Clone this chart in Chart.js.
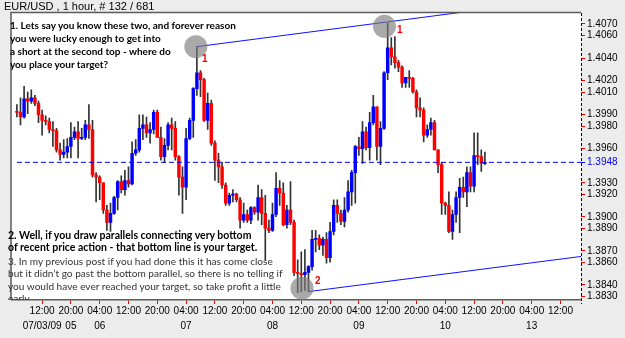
<!DOCTYPE html>
<html>
<head>
<meta charset="utf-8">
<script src="https://cdn.jsdelivr.net/npm/chart.js@4.4.0/dist/chart.umd.min.js"></script>
<style>
  html, body { margin: 0; padding: 0; background: #ececec; }
  #wrap { position: relative; width: 625px; height: 338px; overflow: hidden; }
  #notes { position: absolute; left: 0; top: 0; width: 625px; height: 300px; overflow: hidden; pointer-events: none; }
  .note { position: absolute; font-family: Lato, "Open Sans", sans-serif; font-size: 10.5px; color: #000; white-space: nowrap; }
  .bold { font-weight: bold; }
  .plain { color: #333; }
  .mark { position: absolute; font-family: "Liberation Sans", Arial, sans-serif; font-weight: bold; font-size: 10px; line-height: 13px; color: #ff0000; }
</style>
</head>
<body>
<div id="wrap">
  <canvas id="chart" width="625" height="338"></canvas>
  <div id="notes">
    <div class="note bold" style="left:10px; top:19px; line-height:12.9px; font-size:10px">1. Lets say you know these two, and forever reason<br>you were lucky enough to get into<br>a short at the second top - where do<br>you place your target?</div>
    <div class="note bold" style="left:8px; top:228.5px; line-height:12px">2. Well, if you draw parallels connecting very bottom<br>of recent price action - that bottom line is your target.</div>
    <div class="note plain" style="left:8px; top:254.5px; line-height:12.5px; font-size:10.1px">3. In my previous post if you had done this it has come close<br>but it didn’t go past the bottom parallel, so there is no telling if<br>you would have ever reached your target, so take profit a little<br>early.</div>
    <div class="mark" style="left:202px; top:51.5px">1</div>
    <div class="mark" style="left:397px; top:22.5px">1</div>
    <div class="mark" style="left:315px; top:273.5px">2</div>
  </div>
</div>
<script>
// hourly bars, EUR/USD
const opens = [
  1.3993, 1.3992, 1.3988, 1.4004, 1.4002, 1.4005, 1.4000, 1.3990, 1.3985, 1.3984,
  1.3977, 1.3976, 1.3959, 1.3955, 1.3957, 1.3962, 1.3970, 1.3975, 1.3969, 1.3970,
  1.3981, 1.3977, 1.3937, 1.3935, 1.3930, 1.3906, 1.3895, 1.3903, 1.3917, 1.3931,
  1.3924, 1.3932, 1.3929, 1.3956, 1.3959, 1.3978, 1.3981, 1.3974, 1.3977, 1.3992,
  1.3970, 1.3953, 1.3963, 1.3981, 1.3978, 1.3953, 1.3935, 1.3926, 1.3969, 1.3985,
  1.4013, 1.4027, 1.4021, 1.3985, 1.4000, 1.3965, 1.3950, 1.3944, 1.3928, 1.3912,
  1.3919, 1.3920, 1.3915, 1.3897, 1.3902, 1.3897, 1.3908, 1.3904, 1.3917, 1.3903,
  1.3890, 1.3888, 1.3902, 1.3925, 1.3921, 1.3893, 1.3906, 1.3895, 1.3851, 1.3850,
  1.3849, 1.3851, 1.3856, 1.3880, 1.3881, 1.3875, 1.3880, 1.3864, 1.3887, 1.3910,
  1.3903, 1.3896, 1.3906, 1.3922, 1.3939, 1.3962, 1.3960, 1.3975, 1.3961, 1.3983,
  1.3997, 1.3962, 1.3978, 1.4027, 1.4049, 1.4041, 1.4036, 1.4032, 1.4018, 1.4023,
  1.4022, 1.4010, 1.3996, 1.3994, 1.3972, 1.3977, 1.3983, 1.3959, 1.3946, 1.3912,
  1.3910, 1.3887, 1.3902, 1.3917, 1.3926, 1.3922, 1.3939, 1.3927, 1.3954, 1.3953,
  1.3947
];
const highs = [
  1.3999, 1.4005, 1.4015, 1.4010, 1.4012, 1.4007, 1.4002, 1.3994, 1.3989, 1.3987,
  1.3984, 1.3978, 1.3965, 1.3968, 1.3969, 1.3983, 1.3979, 1.3984, 1.3978, 1.3985,
  1.3999, 1.3985, 1.3939, 1.3936, 1.3930, 1.3910, 1.3912, 1.3918, 1.3932, 1.3936,
  1.3941, 1.3944, 1.3966, 1.3968, 1.3990, 1.3990, 1.3988, 1.3983, 1.3994, 1.3994,
  1.3979, 1.3969, 1.3983, 1.3987, 1.3984, 1.3954, 1.3944, 1.3978, 1.3987, 1.4014,
  1.4050, 1.4029, 1.4022, 1.4009, 1.4003, 1.3967, 1.3956, 1.3948, 1.3930, 1.3921,
  1.3924, 1.3921, 1.3917, 1.3912, 1.3906, 1.3909, 1.3909, 1.3928, 1.3924, 1.3919,
  1.3897, 1.3912, 1.3939, 1.3932, 1.3930, 1.3910, 1.3931, 1.3897, 1.3862, 1.3869,
  1.3871, 1.3857, 1.3888, 1.3888, 1.3884, 1.3882, 1.3886, 1.3895, 1.3915, 1.3915,
  1.3906, 1.3917, 1.3932, 1.3941, 1.3963, 1.3970, 1.3984, 1.3979, 1.3992, 1.4007,
  1.3997, 1.3984, 1.4028, 1.4071, 1.4058, 1.4059, 1.4038, 1.4033, 1.4023, 1.4029,
  1.4023, 1.4012, 1.4005, 1.3996, 1.3981, 1.3987, 1.3985, 1.3959, 1.3948, 1.3913,
  1.3922, 1.3906, 1.3922, 1.3934, 1.3935, 1.3944, 1.3944, 1.3974, 1.3974, 1.3959,
  1.3957
];
const lows = [
  1.3988, 1.3981, 1.3987, 1.3991, 1.4000, 1.3998, 1.3983, 1.3972, 1.3981, 1.3974,
  1.3962, 1.3957, 1.3950, 1.3952, 1.3952, 1.3952, 1.3968, 1.3952, 1.3968, 1.3968,
  1.3969, 1.3935, 1.3913, 1.3915, 1.3903, 1.3888, 1.3887, 1.3902, 1.3906, 1.3921,
  1.3919, 1.3926, 1.3928, 1.3954, 1.3957, 1.3968, 1.3970, 1.3965, 1.3973, 1.3970,
  1.3950, 1.3948, 1.3959, 1.3959, 1.3950, 1.3919, 1.3903, 1.3915, 1.3968, 1.3970,
  1.4007, 1.4006, 1.3984, 1.3977, 1.3963, 1.3932, 1.3930, 1.3925, 1.3910, 1.3910,
  1.3913, 1.3913, 1.3890, 1.3895, 1.3895, 1.3894, 1.3902, 1.3897, 1.3893, 1.3862,
  1.3886, 1.3887, 1.3900, 1.3910, 1.3892, 1.3890, 1.3893, 1.3848, 1.3833, 1.3834,
  1.3835, 1.3834, 1.3853, 1.3869, 1.3871, 1.3866, 1.3859, 1.3860, 1.3884, 1.3895,
  1.3893, 1.3891, 1.3904, 1.3910, 1.3912, 1.3954, 1.3947, 1.3959, 1.3950, 1.3981,
  1.3950, 1.3946, 1.3977, 1.4021, 1.4034, 1.4031, 1.4028, 1.4014, 1.4014, 1.4014,
  1.4009, 1.3988, 1.3988, 1.3966, 1.3970, 1.3972, 1.3959, 1.3939, 1.3902, 1.3902,
  1.3886, 1.3880, 1.3895, 1.3886, 1.3917, 1.3909, 1.3922, 1.3922, 1.3946, 1.3940,
  1.3946
];
const closes = [
  1.3992, 1.3988, 1.4004, 1.4002, 1.4005, 1.4000, 1.3990, 1.3985, 1.3984, 1.3977,
  1.3976, 1.3959, 1.3955, 1.3957, 1.3962, 1.3970, 1.3975, 1.3969, 1.3970, 1.3981,
  1.3977, 1.3937, 1.3935, 1.3930, 1.3906, 1.3895, 1.3903, 1.3917, 1.3931, 1.3924,
  1.3932, 1.3929, 1.3956, 1.3959, 1.3978, 1.3981, 1.3974, 1.3977, 1.3992, 1.3970,
  1.3953, 1.3963, 1.3981, 1.3978, 1.3953, 1.3935, 1.3926, 1.3969, 1.3985, 1.4013,
  1.4027, 1.4021, 1.3985, 1.4000, 1.3965, 1.3950, 1.3944, 1.3928, 1.3912, 1.3919,
  1.3920, 1.3915, 1.3897, 1.3902, 1.3897, 1.3908, 1.3904, 1.3917, 1.3903, 1.3890,
  1.3888, 1.3902, 1.3925, 1.3921, 1.3893, 1.3906, 1.3895, 1.3851, 1.3850, 1.3849,
  1.3851, 1.3856, 1.3880, 1.3881, 1.3875, 1.3880, 1.3864, 1.3887, 1.3910, 1.3903,
  1.3896, 1.3906, 1.3922, 1.3939, 1.3962, 1.3960, 1.3975, 1.3961, 1.3983, 1.3997,
  1.3962, 1.3978, 1.4027, 1.4049, 1.4041, 1.4036, 1.4032, 1.4018, 1.4023, 1.4022,
  1.4010, 1.3996, 1.3994, 1.3972, 1.3977, 1.3983, 1.3959, 1.3946, 1.3912, 1.3910,
  1.3887, 1.3902, 1.3917, 1.3926, 1.3922, 1.3939, 1.3927, 1.3954, 1.3953, 1.3947,
  1.3948
];

const xTickPos = [7, 15, 23, 31, 39, 47, 55, 63, 71, 79, 87, 95, 103, 111, 119, 127, 135, 143, 151];
const xTickTimes = ['12:00', '20:00', '04:00', '12:00', '20:00', '04:00', '12:00', '20:00', '04:00', '12:00',
                    '20:00', '04:00', '12:00', '20:00', '04:00', '12:00', '20:00', '04:00', '12:00'];
const xTickDays = ['07/03/09', '05', '06', '', '', '07', '', '', '08', '', '', '09', '', '', '10', '', '', '13', ''];
const yTickValues = [1.4070, 1.4060, 1.4040, 1.4020, 1.4010, 1.3990, 1.3980, 1.3960, 1.3948,
                     1.3930, 1.3920, 1.3900, 1.3890, 1.3870, 1.3860, 1.3840, 1.3830];
const currentPrice = 1.3948;

// parallel channel lines and the highlighted turning points
const topLineX = [50, 156.7];
const topLineY = [1.4050, 1.4094];
const bottomLineX = [81, 156.7];
const bottomLineY = [1.3834, 1.3865];
const circleX = [49.7, 102.1, 79.2];
const circleY = [1.4050, 1.4068, 1.3837];

const xMin = -1.5, xMax = 156.7;
const yMin = 1.38266, yMax = 1.40797;

const UP = '#0000ff';
const DOWN = '#ff0000';
const tickFont = { family: 'Liberation Sans', size: 10 };

const wickData = lows.map((l, i) => ({ x: i, y: [l, highs[i]] }));
const bodyData = opens.map((o, i) => ({ x: i, y: [o, closes[i]] }));
const bodyColors = opens.map((o, i) => closes[i] > o ? UP : DOWN);

const framePlugin = {
    id: 'frame',
    beforeDraw(chart) {
        const { ctx, chartArea: a } = chart;
        ctx.save();
        ctx.fillStyle = '#ececec';
        ctx.fillRect(0, 0, chart.width, chart.height);
        ctx.fillStyle = '#ffffff';
        ctx.fillRect(a.left, a.top, a.right - a.left, a.bottom - a.top);
        ctx.restore();
    },
    afterDraw(chart) {
        const { ctx, chartArea: a } = chart;
        ctx.save();
        ctx.strokeStyle = '#5c5c5c';
        ctx.lineWidth = 1.5;
        ctx.beginPath();
        ctx.moveTo(a.left - 0.5, a.bottom);
        ctx.lineTo(a.left - 0.5, a.top - 0.5);
        ctx.lineTo(a.right, a.top - 0.5);
        ctx.stroke();
        ctx.strokeStyle = '#000';
        ctx.lineWidth = 1;
        ctx.setLineDash([3, 2]);
        ctx.beginPath();
        ctx.moveTo(a.right + 0.5, a.top);
        ctx.lineTo(a.right + 0.5, a.bottom + 4);
        ctx.stroke();
        ctx.restore();
    }
};

new Chart(document.getElementById('chart').getContext('2d'), {
    type: 'bar',
    data: {
        datasets: [
            {
                type: 'bar',
                data: wickData,
                backgroundColor: '#333',
                barThickness: 1,
                grouped: false,
                order: 5
            },
            {
                type: 'bar',
                data: bodyData,
                backgroundColor: bodyColors,
                barThickness: 2.8,
                minBarLength: 1,
                grouped: false,
                order: 4
            },
            {
                type: 'line',
                data: [{ x: 0, y: currentPrice }, { x: xMax, y: currentPrice }],
                borderColor: '#0000ff',
                borderWidth: 1,
                borderDash: [5, 3],
                pointRadius: 0,
                order: 3
            },
            {
                type: 'line',
                data: topLineX.map((x, i) => ({ x: x, y: topLineY[i] })),
                borderColor: '#1010ff',
                borderWidth: 1,
                pointRadius: 0,
                order: 2
            },
            {
                type: 'line',
                data: bottomLineX.map((x, i) => ({ x: x, y: bottomLineY[i] })),
                borderColor: '#1010ff',
                borderWidth: 1,
                pointRadius: 0,
                order: 2
            },
            {
                type: 'line',
                data: circleX.map((x, i) => ({ x: x, y: circleY[i] })),
                showLine: false,
                pointRadius: 11.5,
                pointBackgroundColor: 'rgba(125,125,125,0.65)',
                pointBorderWidth: 0,
                order: 1
            }
        ]
    },
    options: {
        responsive: false,
        animation: false,
        layout: { padding: { left: 4, right: 0, top: 0, bottom: 0 } },
        plugins: {
            legend: { display: false },
            tooltip: { enabled: false },
            title: {
                display: true,
                text: 'EUR/USD , 1 hour, # 132 / 681',
                align: 'start',
                color: '#000',
                font: { family: 'Liberation Sans', size: 11, weight: 'normal', lineHeight: '13px' },
                padding: 0
            }
        },
        scales: {
            x: {
                type: 'linear',
                min: xMin,
                max: xMax,
                offset: false,
                afterBuildTicks: s => { s.ticks = xTickPos.map(v => ({ value: v })); },
                afterFit: s => { s.height = 38; },
                grid: { offset: false, drawOnChartArea: false, drawTicks: true, tickLength: 4, tickColor: '#ff0000', tickWidth: 1 },
                border: { display: true, color: '#5c5c5c', width: 1.5 },
                ticks: {
                    autoSkip: false,
                    maxRotation: 0,
                    padding: 0,
                    color: '#000',
                    font: { family: 'Liberation Sans', size: 10, lineHeight: 1.45 },
                    callback: (v, i) => [xTickTimes[i], xTickDays[i]]
                }
            },
            y: {
                type: 'linear',
                position: 'right',
                min: yMin,
                max: yMax,
                afterBuildTicks: s => { s.ticks = yTickValues.map(v => ({ value: v })); },
                afterFit: s => { s.width = 44; },
                grid: {
                    drawOnChartArea: false,
                    tickLength: 4,
                    tickColor: c => (c.tick && c.tick.value === currentPrice) ? '#0000ff' : '#ff0000'
                },
                border: { display: false },
                ticks: {
                    autoSkip: false,
                    padding: 2,
                    font: tickFont,
                    color: c => (c.tick && c.tick.value === currentPrice) ? '#0000ff' : '#000',
                    callback: v => v.toFixed(4)
                }
            }
        }
    },
    plugins: [framePlugin]
});
</script>
</body>
</html>
